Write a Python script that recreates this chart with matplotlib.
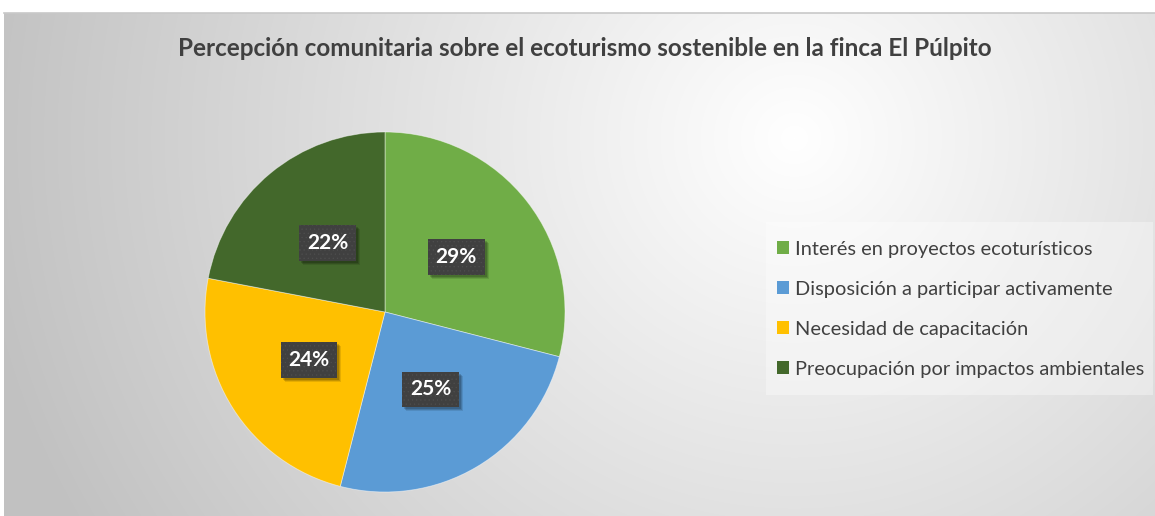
import numpy as np
import matplotlib
matplotlib.use("Agg")
import matplotlib.pyplot as plt
import matplotlib.transforms as mtransforms
from matplotlib.patches import Rectangle

title = "Percepción comunitaria sobre el ecoturismo sostenible en la finca El Púlpito"
categories = ["Interés en proyectos ecoturísticos",
              "Disposición a participar activamente",
              "Necesidad de capacitación",
              "Preocupación por impactos ambientales"]
values = [29, 25, 24, 22]
colors = ["#70AD47", "#5B9BD5", "#FFC000", "#43682B"]

W, H = 1155, 516
fig = plt.figure(figsize=(W / 100, H / 100), dpi=100)
fig.patch.set_facecolor("white")
plt.rcParams["font.family"] = ["Lato", "DejaVu Sans"]
plt.rcParams["hatch.linewidth"] = 0.4

# background radial gradient (chart area)
x0, ytop = 4, 13
bg = fig.add_axes([x0 / W, 0, 1 - x0 / W, (H - ytop) / H], zorder=0)
bw, bh = W - x0, H - ytop
yy, xx = np.mgrid[0:bh, 0:bw]
cx, cy = 790, 125
d = np.sqrt((xx - cx) ** 2 + ((yy - cy) * 1.05) ** 2)
t = np.clip(d / 820.0, 0, 1)
lo, hi = 1.0, 0.76
g = hi + (lo - hi) * (1 - t)
img = np.dstack([g, g, g])
bg.imshow(img, aspect="auto", extent=[0, bw, bh, 0])
bg.set_xlim(0, bw)
bg.set_ylim(bh, 0)
bg.axis("off")
fig.add_artist(plt.Line2D([x0 / W, 1], [(H - ytop) / H] * 2, color="#c8c8c8", lw=1.2,
                          transform=fig.transFigure, zorder=1))

# pie axes
cxp, cyp, R = 385, 312, 180
half = 190
ax = fig.add_axes([(cxp - half) / W, (H - cyp - half) / H, 2 * half / W, 2 * half / H], zorder=2)

lab_fs = 15
wedges, texts, autotexts = ax.pie(values, colors=colors, startangle=90, counterclock=False,
                                  radius=1.0, autopct="%1.0f%%", pctdistance=0.5,
                                  wedgeprops=dict(linewidth=0.6, edgecolor="#ffffff80"),
                                  textprops=dict(color="white", fontsize=lab_fs, fontweight="bold"))
lim = half / R
ax.set_xlim(-lim, lim)
ax.set_ylim(-lim, lim)
ax.set_aspect("equal")
ax.axis("off")
for at in autotexts:
    at.set_bbox(dict(boxstyle="square,pad=0.38", facecolor="#404040", edgecolor="#4e4e4e",
                     linewidth=0, hatch="...."))
    at.set_zorder(6)

# title
fig.text(585 / W, 1 - 49 / H, title, ha="center", va="center", fontsize=17.5,
         fontweight="bold", color="#404040", zorder=3)

# legend
fig.patches.append(Rectangle((766 / W, 1 - 395 / H), (1153 - 766) / W, (395 - 222) / H,
                             transform=fig.transFigure, facecolor=(1, 1, 1, 0.35),
                             edgecolor="none", zorder=2))
leg = fig.legend(wedges, categories, loc="center left", bbox_to_anchor=(777 / W, 1 - 309 / H),
                 frameon=False, fontsize=14.4, handlelength=0.6, handleheight=0.6,
                 handletextpad=0.3, labelspacing=1.15, labelcolor="#404040",
                 borderaxespad=0, borderpad=0)
for h in leg.legend_handles:
    h.set_linewidth(0)
leg.set_zorder(3)

# shadows behind label boxes (inside the pie axes, below the label text)
fig.canvas.draw()
renderer = fig.canvas.get_renderer()
for at in autotexts:
    bb = at.get_bbox_patch().get_window_extent(renderer)
    for k, a in ((5, 0.10), (4, 0.14), (3, 0.16)):
        ax.add_patch(Rectangle((bb.x0 + k - 1, bb.y0 - k + 1), bb.width, bb.height,
                               transform=mtransforms.IdentityTransform(),
                               facecolor=(0, 0, 0, a), edgecolor="none", zorder=4,
                               clip_on=False))

fig.savefig("out.png", dpi=100)
